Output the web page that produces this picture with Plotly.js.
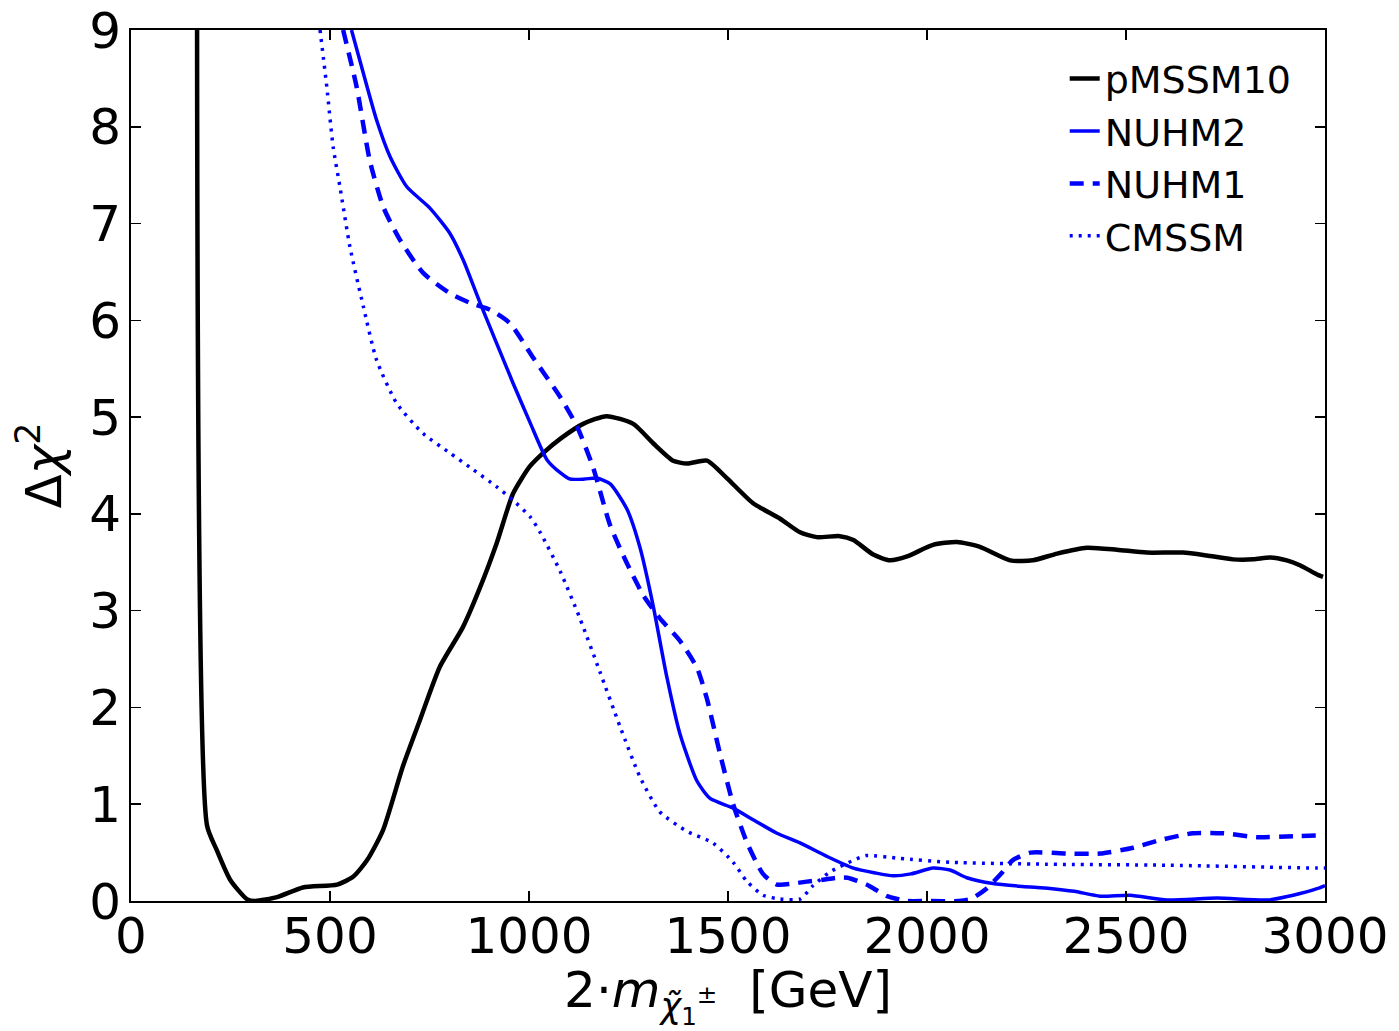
<!DOCTYPE html>
<html>
<head>
<meta charset="utf-8">
<script src="https://cdn.plot.ly/plotly-3.0.1.min.js"></script>
<style>html,body{margin:0;padding:0;background:#fff;}#chart{width:1399px;height:1031px;}</style>
</head>
<body>
<div id="chart"></div>
<script>
// pMSSM10
const pmssm10X = [166, 191, 215, 249, 291, 312, 367, 432, 518, 558, 593, 633, 683, 726, 776, 834, 877, 919, 960, 1002, 1036, 1080, 1136, 1195, 1262, 1312, 1362, 1397, 1447, 1497, 1563, 1631, 1681, 1723, 1781, 1815, 1865, 1907, 1950, 2015, 2075, 2133, 2209, 2266, 2327, 2402, 2477, 2552, 2643, 2703, 2769, 2820, 2862, 2904, 2937, 2982, 2995];
const pmssm10Y = [9, 0.78, 0.53, 0.22, 0.02, 0, 0.04, 0.14, 0.17, 0.25, 0.42, 0.73, 1.39, 1.87, 2.42, 2.83, 3.24, 3.70, 4.21, 4.49, 4.63, 4.78, 4.93, 5.01, 4.93, 4.73, 4.55, 4.52, 4.55, 4.37, 4.11, 3.95, 3.81, 3.76, 3.77, 3.73, 3.58, 3.52, 3.56, 3.68, 3.71, 3.66, 3.52, 3.52, 3.59, 3.65, 3.63, 3.60, 3.60, 3.57, 3.53, 3.53, 3.55, 3.52, 3.47, 3.37, 3.35];
// NUHM2
const nuhm2X = [554, 584, 617, 651, 693, 751, 801, 835, 877, 919, 960, 1003, 1045, 1080, 1103, 1140, 1170, 1204, 1246, 1279, 1312, 1346, 1379, 1422, 1455, 1513, 1563, 1623, 1681, 1749, 1815, 1870, 1915, 1960, 2015, 2058, 2100, 2166, 2240, 2309, 2370, 2435, 2510, 2603, 2729, 2854, 2920, 2982, 3000];
const nuhm2Y = [9, 8.55, 8.07, 7.69, 7.38, 7.16, 6.90, 6.62, 6.18, 5.76, 5.35, 4.94, 4.56, 4.42, 4.36, 4.36, 4.37, 4.31, 4.05, 3.65, 3.05, 2.32, 1.73, 1.24, 1.06, 0.96, 0.84, 0.70, 0.60, 0.46, 0.34, 0.29, 0.26, 0.28, 0.34, 0.32, 0.24, 0.18, 0.15, 0.13, 0.10, 0.05, 0.06, 0.01, 0.03, 0.01, 0.06, 0.13, 0.16];
// NUHM1
const nuhm1X = [533, 567, 600, 634, 676, 734, 801, 852, 902, 952, 1011, 1078, 1121, 1161, 1204, 1246, 1287, 1329, 1379, 1422, 1447, 1480, 1513, 1548, 1588, 1623, 1663, 1698, 1739, 1773, 1800, 1848, 1900, 1950, 2000, 2080, 2110, 2150, 2190, 2215, 2260, 2352, 2435, 2518, 2586, 2668, 2744, 2829, 2920, 3000];
const nuhm1Y = [9, 8.41, 7.65, 7.17, 6.83, 6.49, 6.28, 6.18, 6.11, 5.97, 5.61, 5.21, 4.90, 4.48, 3.88, 3.49, 3.16, 2.92, 2.69, 2.41, 2.09, 1.52, 1.00, 0.60, 0.28, 0.17, 0.18, 0.20, 0.22, 0.24, 0.24, 0.17, 0.05, 0.0, 0.0, 0.0, 0.02, 0.13, 0.30, 0.42, 0.50, 0.49, 0.49, 0.55, 0.63, 0.70, 0.70, 0.66, 0.67, 0.68];
// CMSSM
const cmssmX = [475, 492, 508, 525, 550, 584, 617, 668, 734, 801, 852, 919, 960, 1003, 1028, 1078, 1128, 1178, 1229, 1279, 1329, 1397, 1462, 1513, 1548, 1588, 1631, 1681, 1714, 1756, 1815, 1848, 1932, 2058, 2300, 2600, 2980, 3000];
const cmssmY = [9, 8.41, 7.79, 7.38, 6.76, 6.14, 5.59, 5.14, 4.83, 4.63, 4.48, 4.28, 4.14, 3.97, 3.81, 3.41, 2.92, 2.37, 1.80, 1.28, 0.92, 0.72, 0.60, 0.40, 0.20, 0.06, 0.02, 0.02, 0.16, 0.30, 0.42, 0.47, 0.44, 0.40, 0.38, 0.37, 0.34, 0.34];

const xTicks = [0, 500, 1000, 1500, 2000, 2500, 3000];
const yTicks = [0, 1, 2, 3, 4, 5, 6, 7, 8, 9];

const traces = [
  {x: pmssm10X, y: pmssm10Y, name: 'pMSSM10', legendgroup: 'a', mode: 'lines', line: {color: '#000000', width: 4.5, shape: 'spline', smoothing: 0.6}},
  {x: nuhm2X, y: nuhm2Y, name: 'NUHM2', legendgroup: 'b', mode: 'lines', line: {color: '#0000ff', width: 3.5, shape: 'spline', smoothing: 0.6}},
  {x: nuhm1X, y: nuhm1Y, name: 'NUHM1', legendgroup: 'c', mode: 'lines', line: {color: '#0000ff', width: 4.5, dash: '14px,9px', shape: 'spline', smoothing: 0.6}},
  {x: cmssmX, y: cmssmY, name: 'CMSSM', legendgroup: 'd', mode: 'lines', line: {color: '#0000ff', width: 3.5, dash: '3px,6px', shape: 'spline', smoothing: 0.6}}
];

const axisCommon = {
  showline: true, linecolor: '#000', linewidth: 2, mirror: 'ticks',
  ticks: 'inside', ticklen: 10, tickwidth: 1.5, tickcolor: '#000',
  showgrid: false, zeroline: false,
  tickfont: {family: 'DejaVu Sans', size: 50, color: '#000'}
};

const layout = {
  width: 1399, height: 1031,
  margin: {l: 131, r: 74, t: 30, b: 130},
  paper_bgcolor: '#fff', plot_bgcolor: '#fff',
  font: {family: 'DejaVu Sans', color: '#000'},
  xaxis: Object.assign({}, axisCommon, {
    range: [0, 3000], tickvals: xTicks, ticktext: xTicks.map(String),
    ticklabelstandoff: -10,
    title: {text: '2·<i>m</i><sub><i>χ̃</i><sub>1</sub><sup>±</sup></sub>  [GeV]', font: {family: 'DejaVu Sans', size: 50, color: '#000'}, standoff: 20}
  }),
  yaxis: Object.assign({}, axisCommon, {
    range: [0, 9], tickvals: yTicks, ticktext: yTicks.map(String),
    ticklabelstandoff: -2,
    title: {text: 'Δ<i>χ</i><sup>2</sup>', font: {family: 'DejaVu Sans', size: 50, color: '#000'}, standoff: 12}
  }),
  showlegend: true,
  legend: {x: 0.782, y: 0.98, xanchor: 'left', yanchor: 'top', bgcolor: 'rgba(0,0,0,0)', borderwidth: 0,
    tracegroupgap: 7, traceorder: 'normal',
    font: {family: 'DejaVu Sans', size: 38, color: '#000'}}
};

Plotly.newPlot('chart', traces, layout, {displayModeBar: false, staticPlot: true});
</script>
</body>
</html>
